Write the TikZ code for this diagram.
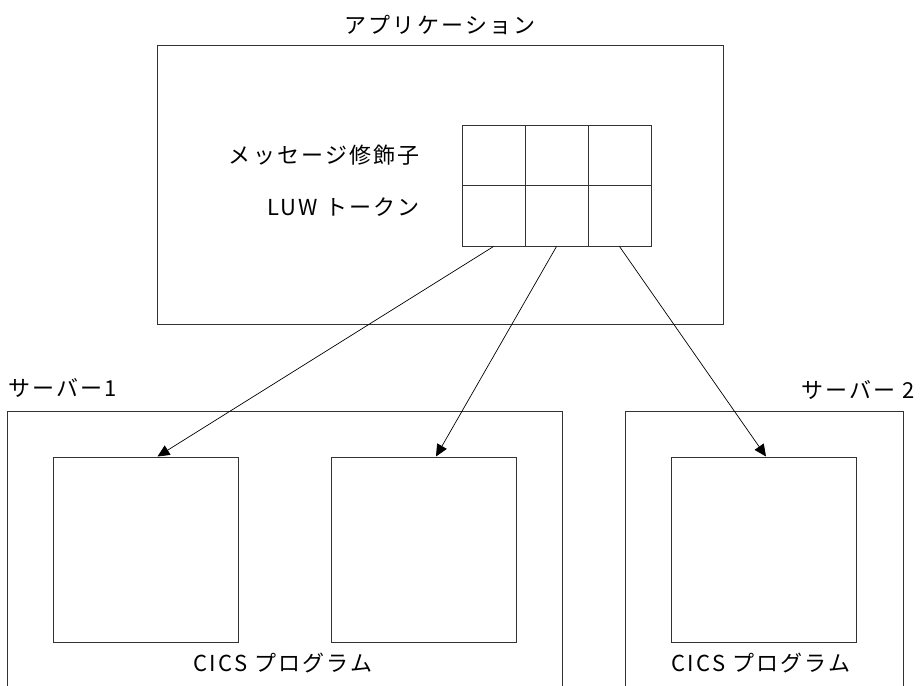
\documentclass[tikz,border=0pt]{standalone}
\usepackage{fontspec}
\setmainfont{Noto Sans CJK JP}[LetterSpace=10]
\usetikzlibrary{arrows.meta,positioning}
\tikzset{>={Triangle[length=12pt,width=11pt]},
  box/.style={draw=black!80,line width=1pt,inner sep=0pt},
  cell/.style={box,minimum width=63pt,minimum height=60.5pt},
  progbox/.style={box,minimum width=185pt,minimum height=185pt},
  lbl/.style={font=\fontsize{22}{26}\selectfont,inner sep=0pt},
  call/.style={->,line width=0.7pt}}

\begin{document}
\begin{tikzpicture}[x=1pt,y=-1pt]
  \useasboundingbox (0,0) rectangle (920,685);
  \clip (0,0) rectangle (920,685);
  % application with its message descriptor
  \node[box,minimum width=566pt,minimum height=278pt] (app) at (440,185) {};
  \node[lbl] (apptitle) at (440,25) {アプリケーション};
  \foreach \r in {1,2}
    \foreach \c in {1,2,3}
      \node[cell] (c\r\c) at (430.5+63*\c,94.75+60.5*\r) {};
  \node[lbl,anchor=east] (mqmd) at (420,155) {メッセージ修飾子};
  \node[lbl,anchor=east] (luw) at (420,207) {LUW トークン};
  % servers, open at the bottom edge
  \node[box,minimum width=555pt,minimum height=300pt] (srvone) at (284.5,561) {};
  \node[box,minimum width=278pt,minimum height=300pt] (srvtwo) at (764,561) {};
  \node[lbl,anchor=west] at (8,388) {サーバー1};
  \node[lbl,anchor=east] at (915,390) {サーバー 2};
  \node[progbox] (prog1) at (145.5,549.5) {};
  \node[progbox] (prog2) at (424,549.5) {};
  \node[progbox] (prog3) at (764,549.5) {};
  \node[lbl] (cics1) at (283,663) {CICS プログラム};
  \node[lbl] (cics2) at (761,663) {CICS プログラム};
  \draw[call] (c21.south) -- ([xshift=12pt]prog1.north);
  \draw[call] (c22.south) -- ([xshift=12pt]prog2.north);
  \draw[call] (c23.south) -- ([xshift=2pt]prog3.north);
\end{tikzpicture}
\end{document}
